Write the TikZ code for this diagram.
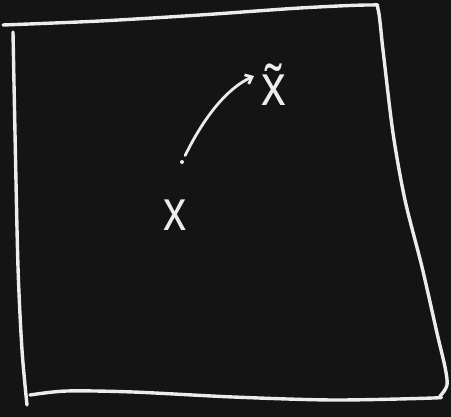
\documentclass[tikz,border=0pt]{standalone}
\usepackage{fontspec}
\setmainfont{Liberation Sans}
\usetikzlibrary{arrows.meta}
\definecolor{board}{HTML}{141414}
\definecolor{chalk}{HTML}{ECECEC}
\begin{document}
\begin{tikzpicture}[x=1pt, y=-1pt, chalk line/.style={draw=chalk, line width=3.4pt, line cap=round, line join=round}, every node/.style={text=chalk, inner sep=0pt, font=\fontsize{58}{58}\selectfont}]
\fill[board] (0,0) rectangle (451,417);
\useasboundingbox (0,0) rectangle (451,417);
% the region
\draw[chalk line] plot[smooth, tension=0.5] coordinates {(3,25) (100,21) (200,15) (300,8) (370,5) (378,9) (383,50) (393,133) (405,200) (422,267) (437,333) (445,367) (447,385) (440,396) (433,398) (333,400) (233,397) (133,392) (67,391) (30,395)};
\draw[chalk line] plot[smooth, tension=0.5] coordinates {(13,32) (15,133) (18,267) (22,350) (27,405)};
% points
\node[xscale=0.8] (x) at (175,215) {x};
\node[xscale=0.85] (xt) at (274,85) {\~{x}};
\node[circle, fill=chalk, minimum size=4pt] (dot) at (182,162) {};
\coordinate (tip) at (254,76);
\draw[chalk line, line width=2.8pt, -{Straight Barb[length=6pt, width=10pt]}, shorten <=5pt] (dot) .. controls (205,115) and (228,88) .. (tip);
\end{tikzpicture}
\end{document}
